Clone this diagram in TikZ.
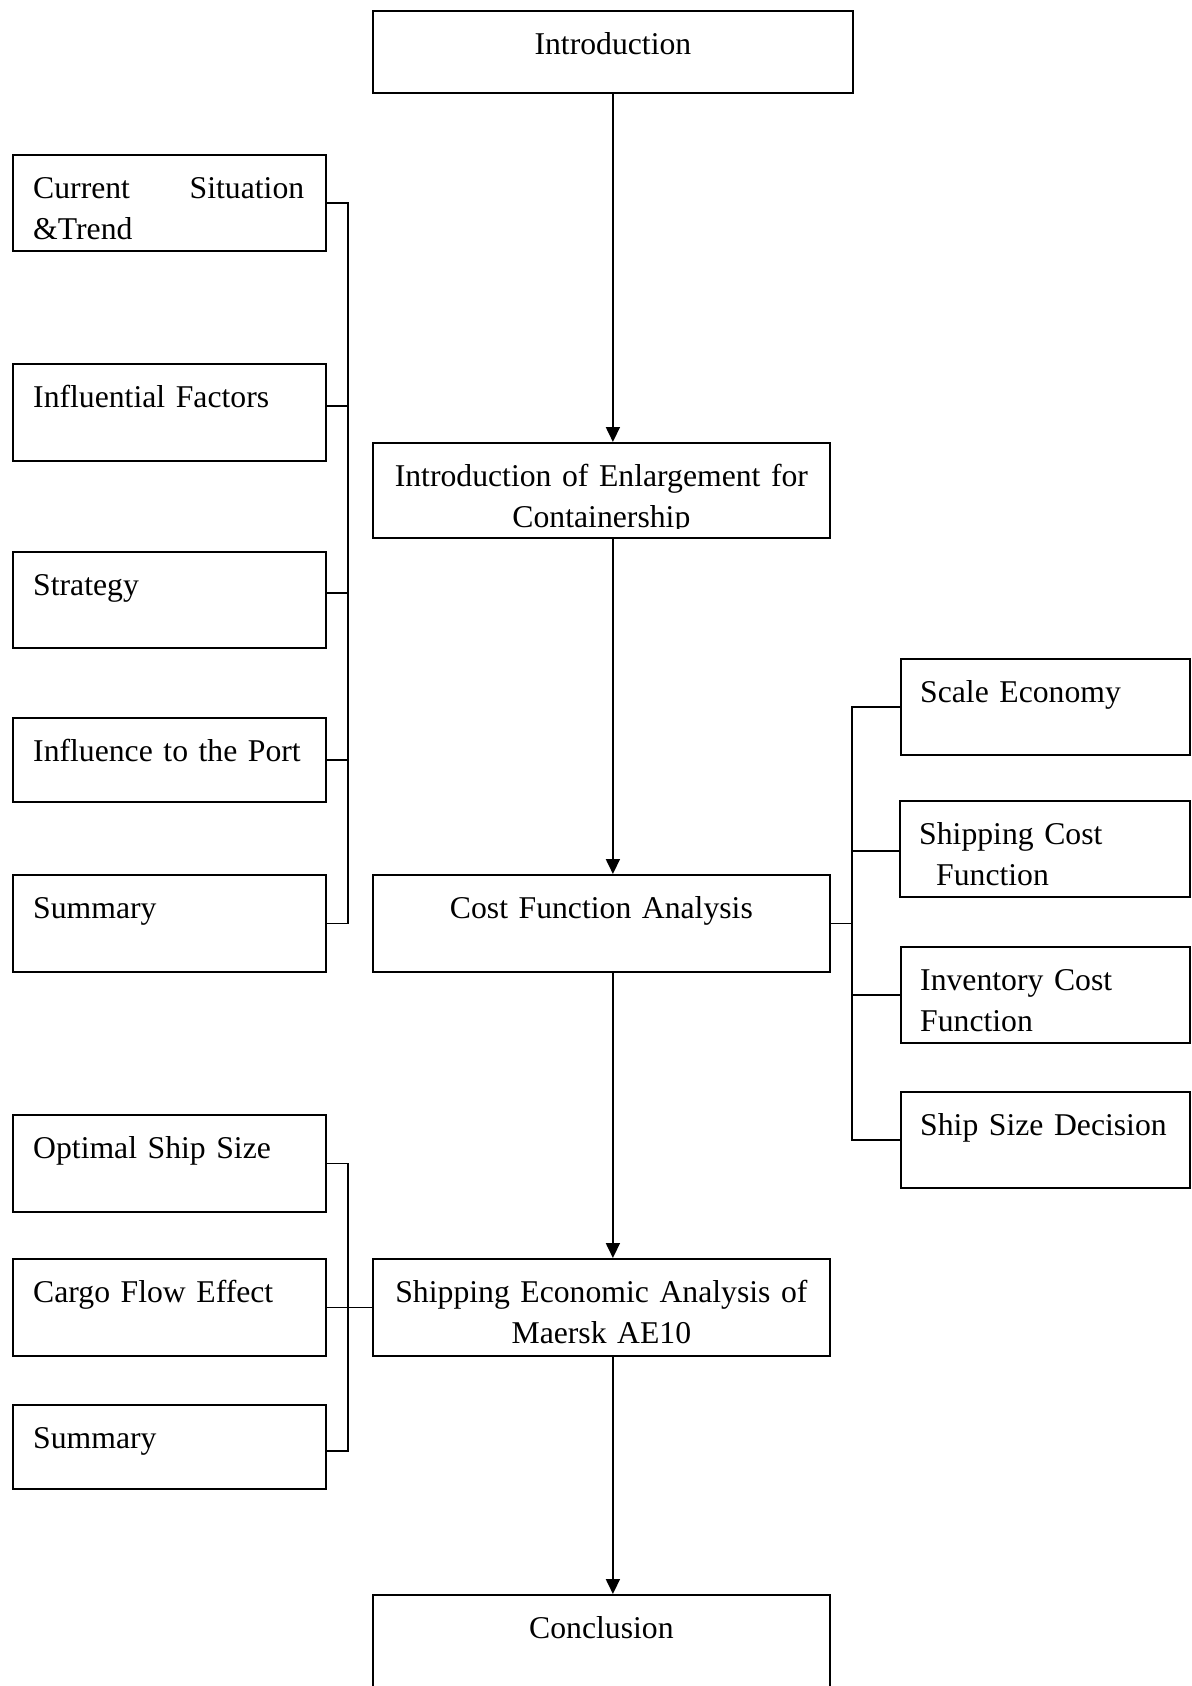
\documentclass[tikz,border=0pt]{standalone}
\usepackage{fontspec}
\setmainfont{Liberation Serif}
\usetikzlibrary{arrows.meta,calc}
\begin{document}
\begin{tikzpicture}[x=1pt,y=-1pt,
  box/.style={draw, line width=1.8pt, rectangle, inner sep=0pt, anchor=north west},
  txt/.style={inner sep=0pt, font=\fontsize{31.7pt}{41pt}\selectfont, execute at begin node=\strut},
  ltxt/.style={txt, anchor=north west, align=left, text width=288pt},
  ctxt/.style={txt, anchor=north, align=center},
  ln/.style={line width=1.8pt},
  arr/.style={line width=1.8pt, -{Triangle[length=15pt,width=14pt]}}]
\useasboundingbox (0,0) rectangle (1191,1686);
\clip (0,0) rectangle (1191,1686);

% centre column
\node[box, minimum width=480pt, minimum height=82pt] (intro) at (372,10) {};
\node[box, minimum width=457pt, minimum height=95pt] (enl) at (372,442) {};
\node[box, minimum width=457pt, minimum height=97pt] (cfa) at (372,874) {};
\node[box, minimum width=457pt, minimum height=97pt] (sea) at (372,1258) {};
\node[box, minimum width=457pt, minimum height=130pt] (concl) at (372,1594) {};

% left column, upper group
\node[box, minimum width=313pt, minimum height=96pt] (cs) at (12,154) {};
\node[box, minimum width=313pt, minimum height=97pt] (if) at (12,363) {};
\node[box, minimum width=313pt, minimum height=96pt] (str) at (12,551) {};
\node[box, minimum width=313pt, minimum height=84pt] (port) at (12,717) {};
\node[box, minimum width=313pt, minimum height=97pt] (sumA) at (12,874) {};

% left column, lower group
\node[box, minimum width=313pt, minimum height=97pt] (opt) at (12,1114) {};
\node[box, minimum width=313pt, minimum height=97pt] (cargo) at (12,1258) {};
\node[box, minimum width=313pt, minimum height=84pt] (sumB) at (12,1404) {};

% right column
\node[box, minimum width=289pt, minimum height=96pt] (se) at (900,658) {};
\node[box, minimum width=290pt, minimum height=96pt] (sc) at (899,800) {};
\node[box, minimum width=289pt, minimum height=96pt] (ic) at (900,946) {};
\node[box, minimum width=289pt, minimum height=96pt] (ssd) at (900,1091) {};

% texts
\node[ctxt, text width=470pt] (t-intro) at ($(intro.north)+(0,15.3)$) {Introduction};
\begin{scope}
  \clip (enl.north west) rectangle ([yshift=10pt]enl.south east);
  \node[ctxt, text width=450pt] (t-enl) at ($(enl.north)+(0,16)$) {Introduction of Enlargement for\\Containership};
\end{scope}
\node[ctxt, text width=450pt] (t-cfa) at ($(cfa.north)+(0,15.3)$) {Cost Function Analysis};
\node[ctxt, text width=450pt] (t-sea) at ($(sea.north)+(0,15.3)$) {Shipping Economic Analysis of\\Maersk AE10};
\node[ctxt, text width=450pt] (t-concl) at ($(concl.north)+(0,15.3)$) {Conclusion};

\node[ltxt, text width=271pt] (t-cs) at ($(cs.north west)+(21,15.3)$) {Current\hfill Situation\\\&Trend};
\node[ltxt] (t-if) at ($(if.north west)+(21,15.3)$) {Influential Factors};
\node[ltxt] (t-str) at ($(str.north west)+(21,15.3)$) {Strategy};
\node[ltxt] (t-port) at ($(port.north west)+(21,15.3)$) {Influence to the Port};
\node[ltxt] (t-sumA) at ($(sumA.north west)+(21,15.3)$) {Summary};
\node[ltxt] (t-opt) at ($(opt.north west)+(21,15.3)$) {Optimal Ship Size};
\node[ltxt] (t-cargo) at ($(cargo.north west)+(21,15.3)$) {Cargo Flow Effect};
\node[ltxt] (t-sumB) at ($(sumB.north west)+(21,15.3)$) {Summary};

\node[ltxt, text width=265pt] (t-se) at ($(se.north west)+(20,15.3)$) {Scale Economy};
\node[ltxt, text width=265pt] (t-sc) at ($(sc.north west)+(20,15.3)$) {Shipping Cost\\\hspace*{17pt}Function};
\node[ltxt, text width=265pt] (t-ic) at ($(ic.north west)+(20,15.3)$) {Inventory Cost\\Function};
\node[ltxt, text width=265pt] (t-ssd) at ($(ssd.north west)+(20,15.3)$) {Ship Size Decision};

% arrows down the centre
\draw[arr] (intro.south) -- (intro.south |- enl.north);
\draw[arr] (intro.south |- enl.south) -- (intro.south |- cfa.north);
\draw[arr] (intro.south |- cfa.south) -- (intro.south |- sea.north);
\draw[arr] (intro.south |- sea.south) -- (intro.south |- concl.north);

% left brackets
\coordinate (lb) at (348,0);
\coordinate (ifc) at ([yshift=6.5pt]if.east);
\coordinate (stc) at ([yshift=7pt]str.east);
\draw[ln] (cs.east) -| (lb |- sumA.east) -- (sumA.east);
\draw[ln] (ifc) -- (ifc -| lb);
\draw[ln] (stc) -- (stc -| lb);
\draw[ln] (port.east) -- (port.east -| lb);

\coordinate (sbc) at ([yshift=-4pt]sumB.east);
\draw[ln] (opt.east) -| (lb |- sbc) -- (sbc);
\draw[ln] (cargo.east) -- (sea.west);

% right bracket
\coordinate (rb) at (852,0);
\coordinate (scc) at ([xshift=2pt,yshift=-2pt]sc.west);
\draw[ln] (se.west) -| (rb |- ssd.west) -- (ssd.west);
\draw[ln] (cfa.east) -- (cfa.east -| rb);
\draw[ln] (scc -| rb) -- (scc);
\draw[ln] (ic.west) -- (ic.west -| rb);
\end{tikzpicture}
\end{document}
